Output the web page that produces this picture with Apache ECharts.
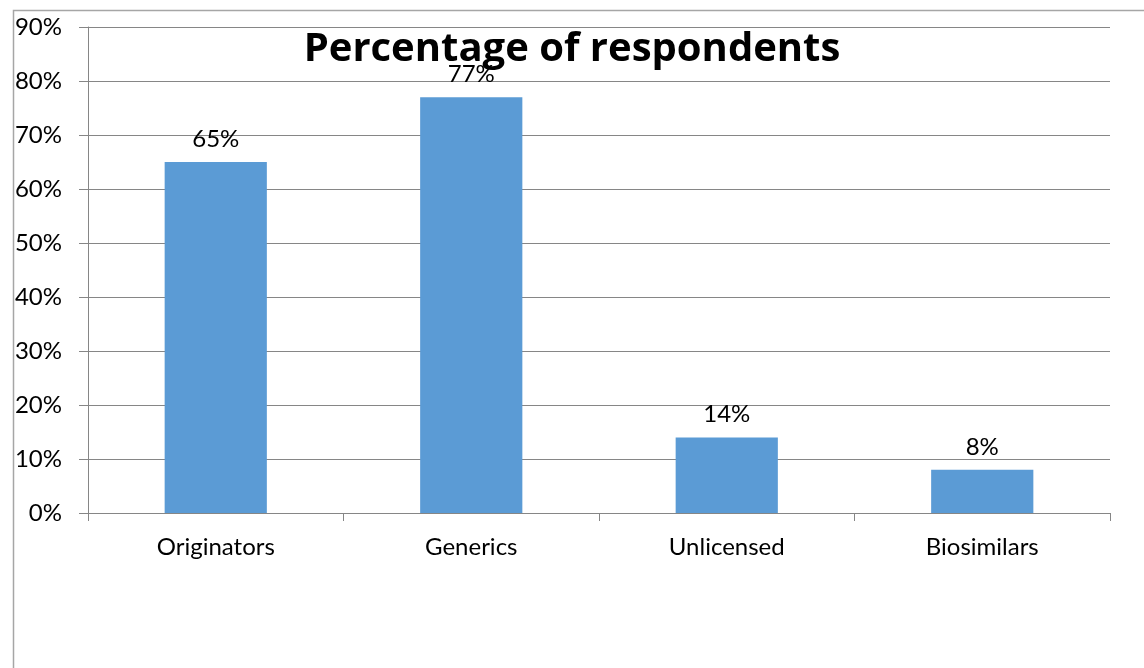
<!DOCTYPE html>
<html><head><meta charset="utf-8">
<script src="https://cdn.jsdelivr.net/npm/echarts@6/dist/echarts.min.js"></script>
<style>html,body{margin:0;padding:0;background:#fff}#c{width:1144px;height:668px}</style>
</head><body><div id="c"></div>
<script>
const categories = ['Originators', 'Generics', 'Unlicensed', 'Biosimilars'];
const values = [65, 77, 14, 8];
const titleText = 'Percentage of respondents';

const chart = echarts.init(document.getElementById('c'), null, {renderer: 'canvas'});
const font = 'Lato, "Open Sans", sans-serif';
chart.setOption({
  animation: false,
  backgroundColor: '#fff',
  graphic: [{
    type: 'rect', z: -1,
    shape: {x: 13.5, y: 10.5, width: 1200, height: 700},
    style: {fill: 'none', stroke: '#a6a6a6', lineWidth: 1.5}
  }],
  title: {
    text: titleText, left: 'center', top: 25,
    textStyle: {fontFamily: '"Open Sans", sans-serif', fontWeight: 'bold', fontSize: 40, color: '#000'}
  },
  grid: {left: 88, right: 34, top: 27, bottom: 155, containLabel: false},
  xAxis: {
    type: 'category', data: categories,
    axisLine: {lineStyle: {color: '#868686', width: 1}},
    axisTick: {show: true, length: 8, lineStyle: {color: '#868686'}},
    axisLabel: {color: '#000', fontFamily: font, fontSize: 24, margin: 22}
  },
  yAxis: {
    type: 'value', min: 0, max: 90, interval: 10,
    axisLine: {show: true, lineStyle: {color: '#868686', width: 1}},
    axisTick: {show: true, length: 9, lineStyle: {color: '#868686'}},
    splitLine: {lineStyle: {color: '#868686', width: 1}},
    axisLabel: {color: '#000', fontFamily: font, fontSize: 24, margin: 26, formatter: '{value}%'}
  },
  series: [{
    type: 'bar', data: values, barWidth: '40%',
    itemStyle: {color: '#5b9bd5'},
    label: {show: true, position: 'top', distance: 11, color: '#000', fontFamily: font, fontSize: 24, formatter: '{c}%'}
  }]
});
</script></body></html>
